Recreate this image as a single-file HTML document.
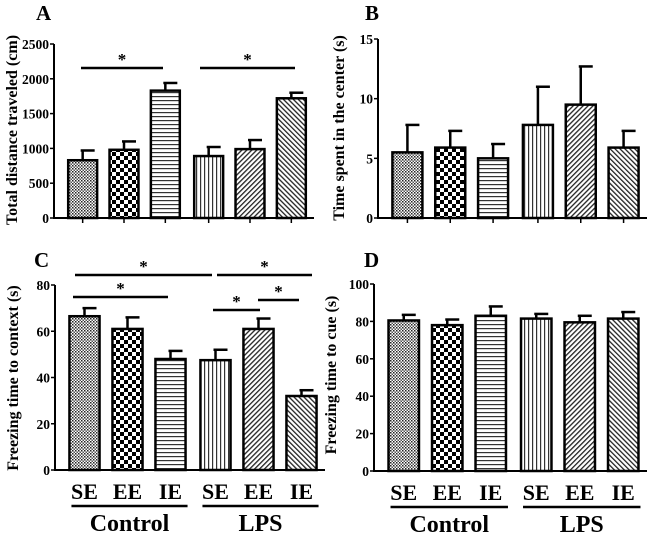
<!DOCTYPE html>
<html><head><meta charset="utf-8"><style>
body{margin:0;background:#fff;}
svg{display:block;}
svg text{font-family:"Liberation Serif","DejaVu Serif",serif;font-weight:bold;}
</style></head><body>
<svg id="fig" width="650" height="548" viewBox="0 0 650 548" xmlns="http://www.w3.org/2000/svg">
<defs>
<pattern id="p0" width="3" height="3" patternUnits="userSpaceOnUse"><rect width="3" height="3" fill="#fff"/><rect width="1.5" height="1.5" fill="#222"/><rect x="1.5" y="1.5" width="1.5" height="1.5" fill="#555"/></pattern>
<pattern id="p1" width="8" height="8" patternUnits="userSpaceOnUse"><rect width="8" height="8" fill="#fff"/><rect width="4" height="4" fill="#000"/><rect x="4" y="4" width="4" height="4" fill="#000"/></pattern>
<pattern id="p2" width="4" height="4" patternUnits="userSpaceOnUse"><rect width="4" height="4" fill="#fff"/><rect width="4" height="1.2" fill="#333"/></pattern>
<pattern id="p3" width="4" height="4" patternUnits="userSpaceOnUse"><rect width="4" height="4" fill="#fff"/><rect width="1.2" height="4" fill="#333"/></pattern>
<pattern id="p4" width="3.5" height="3.5" patternUnits="userSpaceOnUse" patternTransform="rotate(45)"><rect width="3.5" height="3.5" fill="#fff"/><rect width="1.3" height="3.5" fill="#222"/></pattern>
<pattern id="p5" width="3.5" height="3.5" patternUnits="userSpaceOnUse" patternTransform="rotate(-45)"><rect width="3.5" height="3.5" fill="#fff"/><rect width="1.3" height="3.5" fill="#222"/></pattern>
</defs>
<text x="36" y="20" font-size="21" font-family="Liberation Serif, serif" font-weight="bold">A</text>
<text x="365" y="20" font-size="21" font-family="Liberation Serif, serif" font-weight="bold">B</text>
<text x="34" y="267" font-size="21" font-family="Liberation Serif, serif" font-weight="bold">C</text>
<text x="364" y="267" font-size="21" font-family="Liberation Serif, serif" font-weight="bold">D</text>
</svg>
<script>
const categories = ["SE","EE","IE","SE","EE","IE"];
const groups = ["Control","LPS"];
const valuesA = [830, 980, 1830, 890, 990, 1720];
const errorsA = [970, 1100, 1940, 1020, 1120, 1800];
const ticksA = [0, 500, 1000, 1500, 2000, 2500];
const valuesB = [5.5, 5.9, 5.0, 7.8, 9.5, 5.9];
const errorsB = [7.8, 7.3, 6.2, 11.0, 12.7, 7.3];
const ticksB = [0, 5, 10, 15];
const valuesC = [66.5, 61, 48, 47.5, 61, 32];
const errorsC = [70, 66, 51.5, 52, 65.5, 34.5];
const ticksC = [0, 20, 40, 60, 80];
const valuesD = [80.5, 78, 83, 81.5, 79.5, 81.5];
const errorsD = [83.5, 81, 88, 84, 83, 85];
const ticksD = [0, 20, 40, 60, 80, 100];

const NS = "http://www.w3.org/2000/svg";
const svg = document.getElementById("fig");
const FF = "Liberation Serif, DejaVu Serif, serif";
function mk(tag, attrs, parent){const e=document.createElementNS(NS,tag);for(const k in attrs)e.setAttribute(k,attrs[k]);if(tag==="text"){e.setAttribute("font-family",FF);if(!attrs["font-weight"])e.setAttribute("font-weight","bold");}(parent||svg).appendChild(e);return e;}

function panel(p){
  const g = mk("g",{});
  
  
  const maxV = p.ticks[p.ticks.length-1];
  const y = v => p.y0 - (v/maxV)*(p.y0-p.yTop);
  const step = (p.xEnd - p.ax - 12) / 6;
  const bw = step * 0.7;
  const xc = i => p.ax + 8 + step*(i+0.5) + (i>=3?2:0);
  const ya = mk("line",{x1:p.ax,y1:p.y0+1,x2:p.ax,y2:p.yTop,stroke:"#000","stroke-width":2},g);
  
  
  const xa = mk("line",{x1:p.ax-1,y1:p.y0,x2:p.xEnd,y2:p.y0,stroke:"#000","stroke-width":2},g);
  
  
  p.ticks.forEach(t=>{
    mk("line",{x1:p.ax-4,y1:y(t),x2:p.ax,y2:y(t),stroke:"#000","stroke-width":1.5},g);
    const tl = mk("text",{x:p.ax-5,y:y(t)+5,"font-size":13.5,"text-anchor":"end"},g);
    tl.textContent = t;
    
    
  });
  const yt = mk("text",{x:0,y:0,"font-size":16,"text-anchor":"middle",transform:`translate(${p.titleX},${p.titleY}) rotate(-90)`},g);
  yt.textContent = p.title;
  
  
  p.values.forEach((v,i)=>{
    const cx = xc(i);
    mk("line",{x1:cx,y1:y(v),x2:cx,y2:y(p.errors[i]),stroke:"#000","stroke-width":2.5},g);
    mk("line",{x1:cx-2,y1:y(p.errors[i]),x2:cx+12,y2:y(p.errors[i]),stroke:"#000","stroke-width":2.5},g);
    const b = mk("rect",{x:cx-bw/2,y:y(v),width:bw,height:p.y0-y(v),fill:`url(#p${i})`,stroke:"#000","stroke-width":2.5},g);
    
    
    if(p.smallTicks) mk("line",{x1:cx,y1:p.y0,x2:cx,y2:p.y0+5,stroke:"#000","stroke-width":1.5},g);
    if(p.catLabels){
      const c = mk("text",{x:cx,y:p.y0+29,"font-size":22,"text-anchor":"middle"},g);
      c.textContent = categories[i];
      
      
    }
  });
  if(p.catLabels){
    [0,1].forEach(k=>{
      const x1 = xc(k*3)-bw/2+2, x2 = xc(k*3+2)+bw/2+2;
      mk("line",{x1:x1,y1:p.y0+36,x2:x2,y2:p.y0+36,stroke:"#000","stroke-width":2.5},g);
      const gl = mk("text",{x:(x1+x2)/2,y:p.y0+61,"font-size":24,"text-anchor":"middle"},g);
      gl.textContent = groups[k];
      
      
    });
  }
  (p.sig||[]).forEach(s=>{
    mk("line",{x1:s[0],y1:s[2],x2:s[1],y2:s[2],stroke:"#000","stroke-width":2.5},g);
    const st = mk("text",{x:(s[0]+s[1])/2,y:s[2]-3,"font-size":17,"text-anchor":"middle","font-weight":"normal"},g);
    st.textContent = "*";
    
    
  });
}
panel({name:"panel-a",ax:54,xEnd:314,y0:218,yTop:44,ticks:ticksA,values:valuesA,errors:errorsA,title:"Total distance traveled  (cm)",titleX:17,titleY:130,smallTicks:true,sig:[[81,163,68],[200,295,68]]});
panel({name:"panel-b",ax:378,xEnd:647,y0:218,yTop:39,ticks:ticksB,values:valuesB,errors:errorsB,title:"Time spent in the center  (s)",titleX:344,titleY:128,smallTicks:true});
panel({name:"panel-c",ax:55,xEnd:325,y0:470,yTop:285,ticks:ticksC,values:valuesC,errors:errorsC,title:"Freezing time to context (s)",titleX:18,titleY:378,catLabels:true,sig:[[75,212,275],[217,312,275],[73,168,297],[213,260,310],[258,299,300]]});
panel({name:"panel-d",ax:374,xEnd:647,y0:471,yTop:284,ticks:ticksD,values:valuesD,errors:errorsD,title:"Freezing time to cue (s)",titleX:336,titleY:375,catLabels:true});
</script>
</body></html>
